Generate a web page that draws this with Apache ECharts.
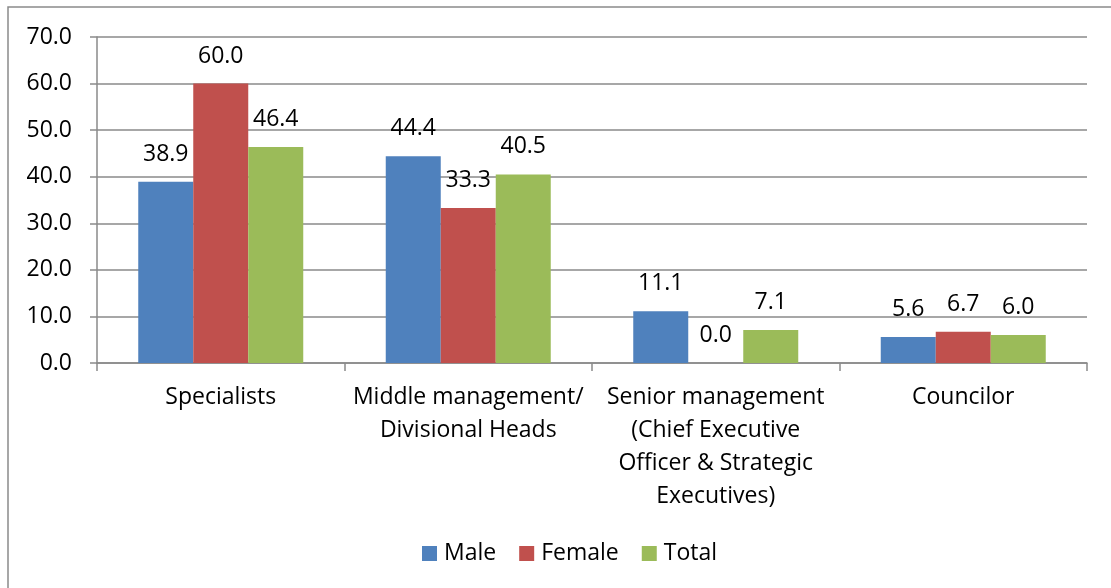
<!DOCTYPE html>
<html>
<head>
<meta charset="utf-8">
<script src="https://cdn.jsdelivr.net/npm/echarts@6/dist/echarts.min.js"></script>
<style>
  html, body { margin: 0; padding: 0; background: #fff; }
  #chart { width: 1111px; height: 588px; }
</style>
</head>
<body>
<div id="chart"></div>
<script>
// categories and values
const categories = [
  'Specialists',
  'Middle management/\nDivisional Heads',
  'Senior management\n(Chief Executive\nOfficer & Strategic\nExecutives)',
  'Councilor'
];
const maleValues = [38.9, 44.4, 11.1, 5.6];
const femaleValues = [60.0, 33.3, 0.0, 6.7];
const totalValues = [46.4, 40.5, 7.1, 6.0];

const FONT = 'Open Sans';
const FONT_SIZE = 23;
const gridColor = '#8a8a8a';

const chart = echarts.init(document.getElementById('chart'));

const barLabel = {
  show: true,
  position: 'top',
  distance: 16,
  color: '#000',
  fontFamily: FONT,
  fontSize: FONT_SIZE,
  formatter: p => p.value.toFixed(1)
};

const makeSeries = (name, data, color) => ({
  name,
  type: 'bar',
  data,
  barWidth: 55,
  barGap: '0%',
  itemStyle: { color },
  label: barLabel
});

chart.setOption({
  animation: false,
  textStyle: { fontFamily: FONT },
  graphic: [{
    type: 'rect',
    shape: { x: 8, y: 7, width: 1200, height: 700 },
    style: { fill: 'none', stroke: '#8a8a8a', lineWidth: 1.5 },
    silent: true
  }],
  grid: { left: 97, right: 24, top: 37, bottom: 225 },
  legend: {
    top: 537,
    left: 417,
    itemWidth: 15,
    itemHeight: 15,
    itemGap: 23,
    icon: 'rect',
    textStyle: { fontFamily: FONT, fontSize: FONT_SIZE, color: '#000', padding: [0, 0, 0, 2] },
    data: ['Male', 'Female', 'Total']
  },
  xAxis: {
    type: 'category',
    data: categories,
    axisLine: { lineStyle: { color: gridColor, width: 1.5 } },
    axisTick: { show: true, length: 8, lineStyle: { color: gridColor, width: 1.5 } },
    axisLabel: {
      interval: 0,
      margin: 18,
      color: '#000',
      fontFamily: FONT,
      fontSize: FONT_SIZE,
      lineHeight: 33
    }
  },
  yAxis: {
    type: 'value',
    min: 0,
    max: 70,
    interval: 10,
    axisLine: { show: true, lineStyle: { color: gridColor, width: 1.5 } },
    axisTick: { show: true, length: 7, lineStyle: { color: gridColor, width: 1.5 } },
    splitLine: { lineStyle: { color: gridColor, width: 1.5 } },
    axisLabel: {
      margin: 25,
      color: '#000',
      fontFamily: FONT,
      fontSize: FONT_SIZE,
      formatter: v => v.toFixed(1)
    }
  },
  series: [
    makeSeries('Male', maleValues, '#4F81BD'),
    makeSeries('Female', femaleValues, '#C0504D'),
    makeSeries('Total', totalValues, '#9BBB59')
  ]
});
</script>
</body>
</html>
